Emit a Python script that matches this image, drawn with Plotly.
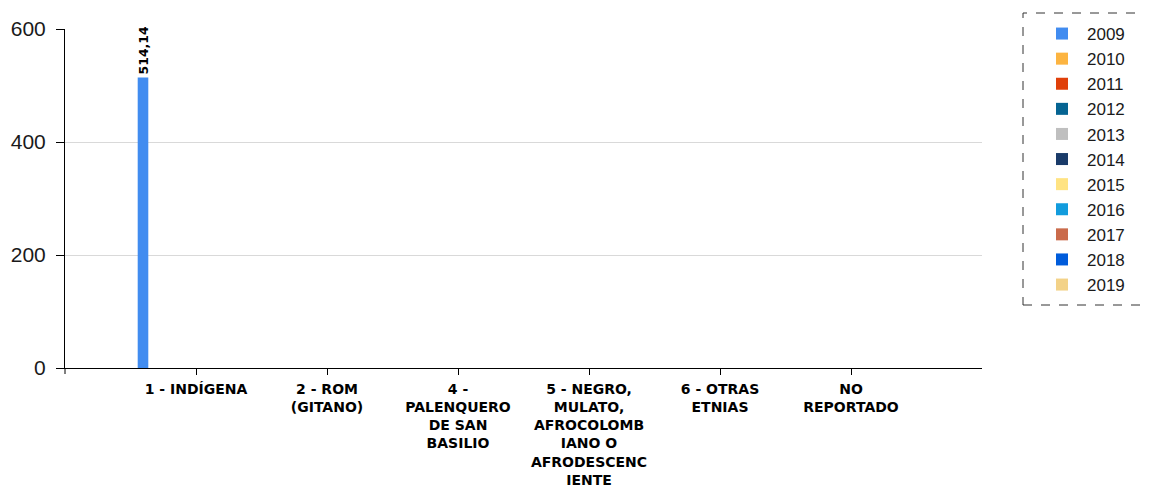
import plotly.graph_objects as go

categories = ["1 - INDÍGENA", "2 - ROM (GITANO)", "4 - PALENQUERO DE SAN BASILIO",
              "5 - NEGRO, MULATO, AFROCOLOMBIANO O AFRODESCENCIENTE",
              "6 - OTRAS ETNIAS", "NO REPORTADO"]
tick_labels = ["1 - INDÍGENA", "2 - ROM<br>(GITANO)", "4 -<br>PALENQUERO<br>DE SAN<br>BASILIO",
               "5 - NEGRO,<br>MULATO,<br>AFROCOLOMB<br>IANO O<br>AFRODESCENC<br>IENTE",
               "6 - OTRAS<br>ETNIAS", "NO<br>REPORTADO"]
years = ["2009", "2010", "2011", "2012", "2013", "2014", "2015", "2016", "2017", "2018", "2019"]
values = {
    "2009": [514.14, None, None, None, None, None],
}
colors = ["#418CF0", "#FCB441", "#E0400A", "#056492", "#BFBFBF", "#1A3B69",
          "#FFE382", "#129CDD", "#CA6B4B", "#005CDB", "#F3D288"]

fig = go.Figure()
for yr, col in zip(years, colors):
    vals = values.get(yr, [None] * len(categories))
    fig.add_trace(go.Bar(
        x=categories, y=vals, name=yr, legendgroup=yr,
        marker=dict(color=col, line=dict(width=0)),
        text=[("%.2f" % v).replace(".", ",") if v is not None else "" for v in vals],
        textposition="outside", textangle=-90, constraintext="none",
        textfont=dict(family="DejaVu Sans", size=12.5, color="#000000", weight="bold"),
        cliponaxis=False,
    ))

# screen offset of 8px (page body margin) is compensated in margins
fig.update_layout(
    width=1143, height=488,
    margin=dict(l=57, r=169, t=21, b=128, autoexpand=False),
    paper_bgcolor="white", plot_bgcolor="white",
    barmode="group", bargap=0.11, bargroupgap=0,
    showlegend=True,
    legend=dict(x=(1037 - 65) / 917, y=(368 - 16) / 339, xanchor="left", yanchor="top",
                font=dict(family="Liberation Sans, Arial", size=17, color="#1a1a1a"),
                bgcolor="rgba(0,0,0,0)", borderwidth=0, itemwidth=40,
                tracegroupgap=0, traceorder="normal", maxheight=1),
    xaxis=dict(
        type="category", range=[-1, 6],
        tickmode="array", tickvals=categories, ticktext=tick_labels,
        showline=True, linecolor="#000000", linewidth=1,
        ticks="outside", ticklen=6, tickcolor="#000000",
        showgrid=False, ticklabelstandoff=2,
        tickfont=dict(family="DejaVu Sans, Verdana", size=14,
                      color="#000000", weight="bold"),
    ),
    yaxis=dict(
        range=[0, 600], tickvals=[0, 200, 400, 600],
        showline=True, linecolor="#000000", linewidth=1,
        ticks="outside", ticklen=8, tickcolor="#000000",
        showgrid=True, gridcolor="#d9d9d9", gridwidth=1,
        zeroline=False, ticklabelstandoff=6,
        tickfont=dict(family="Liberation Sans, Arial", size=21, color="#1a1a1a"),
    ),
    shapes=[
        dict(type="rect", xref="paper", yref="paper",
             x0=(1023 - 65) / 917, x1=(1149 - 65) / 917,
             y0=(368 - 305) / 339, y1=(368 - 13) / 339,
             line=dict(color="#333333", width=1, dash="dash")),
        dict(type="line", xref="paper", yref="paper",
             x0=0, x1=0, y0=0, y1=-6 / 339,
             line=dict(color="#000000", width=1)),
    ],
)

fig.write_html("out.html")
